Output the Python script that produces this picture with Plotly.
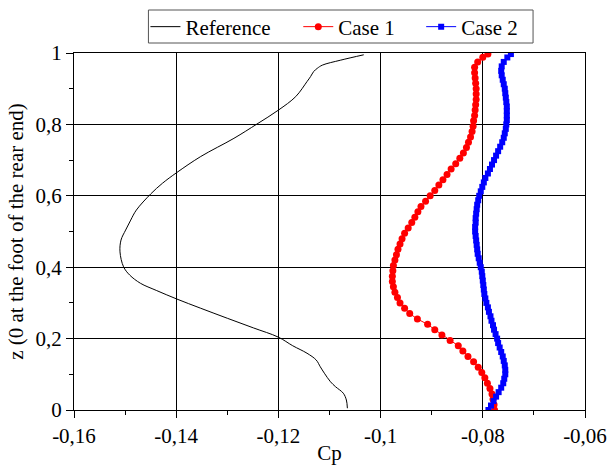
import plotly.graph_objects as go

# ---------------- data ----------------
ref_z = [0.005, 0.028, 0.047, 0.065, 0.079, 0.103, 0.121, 0.14, 0.159, 0.18,
         0.204, 0.23, 0.257, 0.285, 0.311, 0.335, 0.355, 0.378, 0.401, 0.443,
         0.476, 0.504, 0.532, 0.56, 0.605, 0.635, 0.665, 0.71, 0.761, 0.801,
         0.84, 0.878, 0.92, 0.934, 0.948, 0.957, 0.966, 0.98, 0.995]
ref_cp = [-0.1065, -0.1067, -0.1073, -0.1088, -0.1098, -0.1110, -0.1118, -0.1126, -0.1144, -0.1172,
          -0.1200, -0.1249, -0.1300, -0.1352, -0.1399, -0.1439, -0.1470, -0.1491, -0.1503, -0.1510,
          -0.1508, -0.1499, -0.1489, -0.1478, -0.1450, -0.1427, -0.1399, -0.1352, -0.1287, -0.1242,
          -0.1200, -0.1166, -0.1144, -0.1137, -0.1131, -0.1124, -0.1114, -0.1078, -0.1033]

case1_z = [0.000, 0.015, 0.030, 0.045, 0.060, 0.075, 0.090, 0.105, 0.120, 0.135,
           0.150, 0.165, 0.180, 0.195, 0.210, 0.225, 0.240, 0.255, 0.270, 0.285,
           0.300, 0.315, 0.330, 0.345, 0.360, 0.375, 0.390, 0.405, 0.420, 0.435,
           0.450, 0.465, 0.480, 0.495, 0.510, 0.525, 0.540, 0.555, 0.570, 0.585,
           0.600, 0.615, 0.630, 0.645, 0.660, 0.675, 0.690, 0.705, 0.720, 0.735,
           0.750, 0.765, 0.780, 0.795, 0.810, 0.825, 0.840, 0.855, 0.870, 0.885,
           0.900, 0.915, 0.930, 0.945, 0.960, 0.975, 0.988, 0.997]
case1_cp = [-0.0777, -0.0778, -0.0780, -0.0782, -0.0786, -0.0791, -0.0796, -0.0802, -0.0809, -0.0818,
            -0.0829, -0.0839, -0.0848, -0.0864, -0.0880, -0.0894, -0.0908, -0.0928, -0.0943, -0.0953,
            -0.0962, -0.0967, -0.0972, -0.0975, -0.0977, -0.0977, -0.0976, -0.0975, -0.0972, -0.0969,
            -0.0966, -0.0962, -0.0958, -0.0953, -0.0946, -0.0939, -0.0933, -0.0927, -0.0921, -0.0912,
            -0.0903, -0.0894, -0.0886, -0.0878, -0.0870, -0.0862, -0.0853, -0.0845, -0.0838, -0.0832,
            -0.0828, -0.0824, -0.0821, -0.0819, -0.0818, -0.0816, -0.0815, -0.0814, -0.0813, -0.0813,
            -0.0813, -0.0814, -0.0815, -0.0816, -0.0816, -0.0810, -0.0800, -0.0790]

case2_z = [0.0000, 0.0125, 0.0250, 0.0375, 0.0500, 0.0625, 0.0750, 0.0875, 0.1000, 0.1125,
           0.1250, 0.1375, 0.1500, 0.1625, 0.1750, 0.1875, 0.2000, 0.2125, 0.2250, 0.2375,
           0.2500, 0.2625, 0.2750, 0.2875, 0.3000, 0.3125, 0.3250, 0.3375, 0.3500, 0.3625,
           0.3750, 0.3875, 0.4000, 0.4125, 0.4250, 0.4375, 0.4500, 0.4625, 0.4750, 0.4875,
           0.5000, 0.5125, 0.5250, 0.5375, 0.5500, 0.5625, 0.5750, 0.5875, 0.6000, 0.6125,
           0.6250, 0.6375, 0.6500, 0.6625, 0.6750, 0.6875, 0.7000, 0.7125, 0.7250, 0.7375,
           0.7500, 0.7625, 0.7750, 0.7875, 0.8000, 0.8125, 0.8250, 0.8375, 0.8500, 0.8625,
           0.8750, 0.8875, 0.9000, 0.9125, 0.9250, 0.9375, 0.9500, 0.9625, 0.9750, 0.9875,
           0.9970]
case2_cp = [-0.0789, -0.0784, -0.0779, -0.0774, -0.0769, -0.0764, -0.0760, -0.0758, -0.0756, -0.0756,
            -0.0757, -0.0759, -0.0761, -0.0764, -0.0767, -0.0770, -0.0772, -0.0775, -0.0778, -0.0780,
            -0.0783, -0.0785, -0.0788, -0.0790, -0.0793, -0.0795, -0.0797, -0.0798, -0.0799, -0.0800,
            -0.0801, -0.0802, -0.0804, -0.0806, -0.0808, -0.0810, -0.0811, -0.0812, -0.0813, -0.0814,
            -0.0815, -0.0815, -0.0814, -0.0814, -0.0813, -0.0812, -0.0811, -0.0809, -0.0807, -0.0804,
            -0.0801, -0.0798, -0.0795, -0.0790, -0.0786, -0.0782, -0.0778, -0.0774, -0.0770, -0.0766,
            -0.0762, -0.0759, -0.0757, -0.0755, -0.0754, -0.0753, -0.0753, -0.0753, -0.0753, -0.0754,
            -0.0755, -0.0756, -0.0757, -0.0759, -0.0761, -0.0763, -0.0764, -0.0763, -0.0759, -0.0752,
            -0.0745]

x_tickvals = [-0.16, -0.14, -0.12, -0.10, -0.08, -0.06]
x_ticktext = ["-0,16", "-0,14", "-0,12", "-0,1", "-0,08", "-0,06"]
y_tickvals = [0, 0.2, 0.4, 0.6, 0.8, 1.0]
y_ticktext = ["0", "0,2", "0,4", "0,6", "0,8", "1"]

FONT = "Liberation Serif, Times New Roman, serif"
FS = 21

fig = go.Figure()
fig.add_trace(go.Scatter(x=ref_cp, y=ref_z, mode="lines", name="Reference",
                         line=dict(color="black", width=1, shape="spline"),
                         legend="legend", showlegend=True))
fig.add_trace(go.Scatter(x=case1_cp, y=case1_z, mode="lines+markers", name="Case 1",
                         line=dict(color="#ff0000", width=1),
                         marker=dict(symbol="circle", size=7, color="#ff0000"),
                         legend="legend2", showlegend=True))
fig.add_trace(go.Scatter(x=case2_cp, y=case2_z, mode="lines+markers", name="Case 2",
                         line=dict(color="#0000ff", width=1),
                         marker=dict(symbol="square", size=6, color="#0000ff"),
                         legend="legend3", showlegend=True))

L, R, T, B = 73.5, 23, 53, 55
W, H = 608, 465
pw, ph = W - L - R, H - T - B

def px2x(px):
    return (px - L) / pw

def py2y(py):
    return (H - B - py) / ph

leg_common = dict(orientation="h", xanchor="left", yanchor="middle",
                  font=dict(family=FONT, size=FS, color="black"),
                  bgcolor="rgba(0,0,0,0)", borderwidth=0)

fig.update_layout(
    width=W, height=H,
    margin=dict(l=L, r=R, t=T, b=B, autoexpand=False),
    paper_bgcolor="white", plot_bgcolor="white",
    font=dict(family=FONT, size=FS, color="black"),
    showlegend=True,
    legend=dict(x=px2x(145), y=py2y(27), **leg_common),
    legend2=dict(x=px2x(298), y=py2y(27), **leg_common),
    legend3=dict(x=px2x(421), y=py2y(27), **leg_common),
    shapes=[dict(type="rect", xref="paper", yref="paper",
                 x0=px2x(148), x1=px2x(533), y0=py2y(43), y1=py2y(10),
                 line=dict(color="#555555", width=1), fillcolor="rgba(0,0,0,0)")],
)

fig.update_xaxes(range=[-0.16, -0.06], tickvals=x_tickvals, ticktext=x_ticktext,
                 showgrid=True, gridcolor="black", gridwidth=1,
                 showline=True, linecolor="black", linewidth=1, mirror=True,
                 ticks="outside", ticklen=7, tickcolor="black",
                 minor=dict(dtick=0.01, ticks="outside", ticklen=4, tickcolor="black", showgrid=False),
                 zeroline=False, automargin=False,
                 tickfont=dict(family=FONT, size=FS, color="black"),
                 title=dict(text="Cp", font=dict(family=FONT, size=FS, color="black"), standoff=6))
fig.update_yaxes(range=[0, 1], tickvals=y_tickvals, ticktext=y_ticktext,
                 showgrid=True, gridcolor="black", gridwidth=1,
                 showline=True, linecolor="black", linewidth=1, mirror=True,
                 ticks="outside", ticklen=7, tickcolor="black",
                 minor=dict(dtick=0.1, ticks="outside", ticklen=4, tickcolor="black", showgrid=False),
                 zeroline=False, automargin=False,
                 tickfont=dict(family=FONT, size=FS, color="black"),
                 title=dict(text="z (0 at the foot of the rear end)",
                            font=dict(family=FONT, size=FS, color="black"), standoff=6))

fig.write_html("out.html",
               config={"displayModeBar": False},
               post_script="document.body.style.margin='0px';document.body.style.overflow='hidden';")
